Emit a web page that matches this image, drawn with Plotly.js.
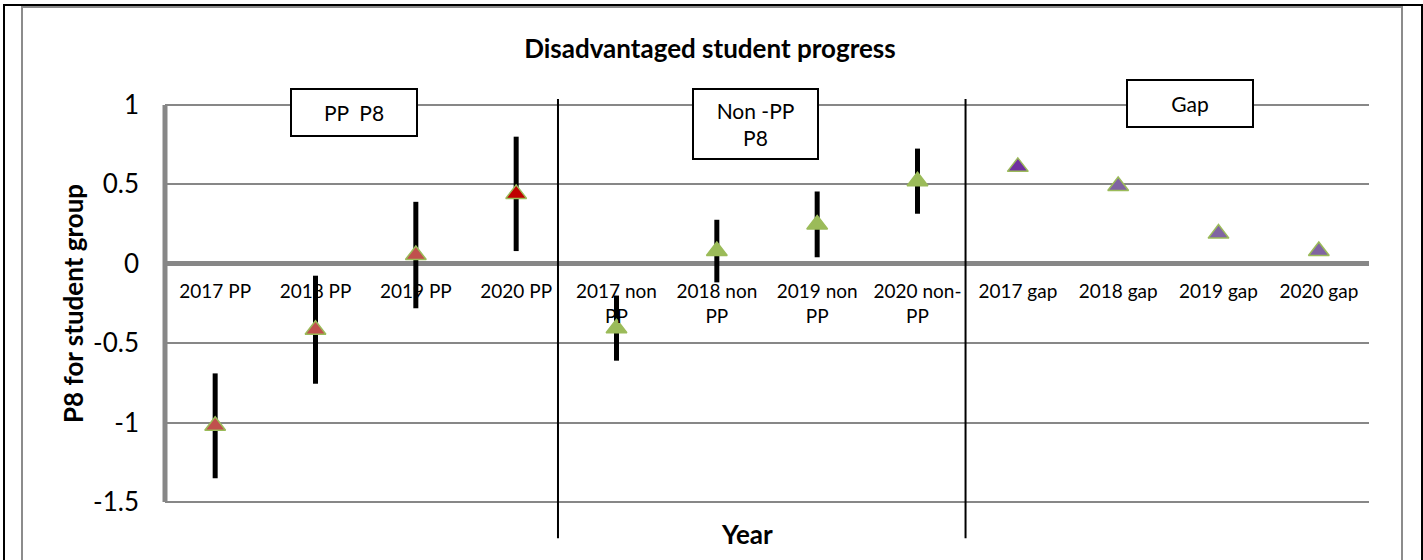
<!DOCTYPE html>
<html lang="en">
<head>
    <meta charset="UTF-8">
    <title>Disadvantaged student progress</title>
    <script src="https://cdn.plot.ly/plotly-3.0.1.min.js"></script>
    <style>
        body { margin: 0; background: white; overflow: hidden; }
        .frame {
            position: absolute; left: 3px; top: 4px;
            width: 1416px; height: 600px;
            border: 2px solid black;
        }
        #chart {
            position: absolute; left: 21px; top: 6px;
            width: 1378px; height: 560px;
            border: 2px solid #8c8c8c;
        }
    </style>
</head>
<body>
<div class="frame"></div>
<div id="chart"></div>
<script>
    const categories = ['2017 PP', '2018 PP', '2019 PP', '2020 PP',
        '2017 non PP', '2018 non PP', '2019 non PP', '2020 non-PP',
        '2017 gap', '2018 gap', '2019 gap', '2020 gap'];
    const tickLabels = ['2017 PP', '2018 PP', '2019 PP', '2020 PP',
        '2017 non<br>PP', '2018 non<br>PP', '2019 non<br>PP', '2020 non-<br>PP',
        '2017 gap', '2018 gap', '2019 gap', '2020 gap'];

    const ppCats = categories.slice(0, 4);
    const nonPpCats = categories.slice(4, 8);
    const gapCats = categories.slice(8, 12);

    const ppValues = [-1.02, -0.415, 0.055, 0.44];
    const ppErrors = [0.33, 0.34, 0.335, 0.36];
    const nonPpValues = [-0.405, 0.08, 0.248, 0.52];
    const nonPpErrors = [0.205, 0.197, 0.207, 0.205];
    const gapValues = [0.61, 0.49, 0.19, 0.08];

    const ppColors = ['#C0504D', '#C0504D', '#C0504D', '#C00000'];
    const gapColors = ['#7030A0', '#8064A2', '#8064A2', '#8064A2'];

    const font = 'Lato, "Open Sans", sans-serif';
    const green = '#9BBB59';
    const grey = '#878787';

    const traces = [
        {
            x: ppCats, y: ppValues, type: 'scatter', mode: 'markers',
            error_y: {type: 'data', array: ppErrors, visible: true, color: 'black', thickness: 5, width: 0},
            marker: {symbol: 'triangle-up', size: 18, color: ppColors, line: {color: green, width: 1.5}}
        },
        {
            x: nonPpCats, y: nonPpValues, type: 'scatter', mode: 'markers',
            error_y: {type: 'data', array: nonPpErrors, visible: true, color: 'black', thickness: 5, width: 0},
            marker: {symbol: 'triangle-up', size: 18, color: green, line: {color: green, width: 1.5}}
        },
        {
            x: gapCats, y: gapValues, type: 'scatter', mode: 'markers',
            marker: {symbol: 'triangle-up', size: 18, color: gapColors, line: {color: green, width: 1.5}}
        }
    ];

    function box(text, x, y, w, h) {
        return {
            text: text, xref: 'paper', yref: 'paper', x: x, y: y,
            xanchor: 'center', yanchor: 'middle', showarrow: false,
            width: w, height: h, borderpad: 0, bordercolor: 'black', borderwidth: 2,
            bgcolor: 'white', font: {family: font, size: 21, color: 'black'}
        };
    }

    const layout = {
        width: 1378, height: 560,
        margin: {l: 142, r: 32, t: 95, b: 64},
        showlegend: false,
        paper_bgcolor: 'white', plot_bgcolor: 'white',
        font: {family: font, color: 'black'},
        title: {
            text: '<b>Disadvantaged student progress</b>',
            font: {family: font, size: 26, color: 'black'},
            x: 0.4985, xref: 'container', y: 0.927, yref: 'container', yanchor: 'middle'
        },
        xaxis: {
            type: 'category', categoryorder: 'array', categoryarray: categories,
            tickvals: categories, ticktext: tickLabels,
            range: [-0.5, 11.5], anchor: 'free', position: 0.6,
            showgrid: false, zeroline: false, showline: false,
            ticks: '', ticklabelstandoff: 15,
            tickfont: {family: font, size: 19, color: 'black'}
        },
        yaxis: {
            range: [-1.512, 1.012], tickvals: [-1.5, -1, -0.5, 0, 0.5, 1],
            ticktext: ['-1.5', '-1', '-0.5', '0', '0.5', '1'],
            showgrid: true, gridcolor: grey, gridwidth: 2,
            zeroline: true, zerolinecolor: grey, zerolinewidth: 5,
            showline: false,
            ticks: '', ticklabelstandoff: 25,
            tickfont: {family: font, size: 26, color: 'black'},
            title: {text: '<b>P8 for student group</b>', standoff: 1,
                font: {family: font, size: 26, color: 'black'}}
        },
        shapes: [
            {type: 'line', xref: 'paper', yref: 'y', x0: 0, x1: 0, y0: -1.5, y1: 1,
                line: {color: grey, width: 5}},
            {type: 'line', xref: 'paper', yref: 'paper', x0: 0.3264, x1: 0.3264, y0: 1.01, y1: -0.0856,
                line: {color: 'black', width: 2}},
            {type: 'line', xref: 'paper', yref: 'paper', x0: 0.6649, x1: 0.6649, y0: 1.01, y1: -0.0856,
                line: {color: 'black', width: 2}}
        ],
        annotations: [
            box('PP  P8', 0.157, 0.977, 124, 45),
            box('Non -PP<br>P8', 0.4904, 0.947, 123, 68),
            box('Gap', 0.851, 0.9987, 124, 45),
            {text: '<b>Year</b>', xref: 'paper', yref: 'paper', x: 0.4834, y: -0.0756,
                xanchor: 'center', yanchor: 'middle', showarrow: false,
                font: {family: font, size: 26, color: 'black'}}
        ]
    };

    Plotly.newPlot('chart', traces, layout, {displayModeBar: false, staticPlot: true});
</script>
</body>
</html>
